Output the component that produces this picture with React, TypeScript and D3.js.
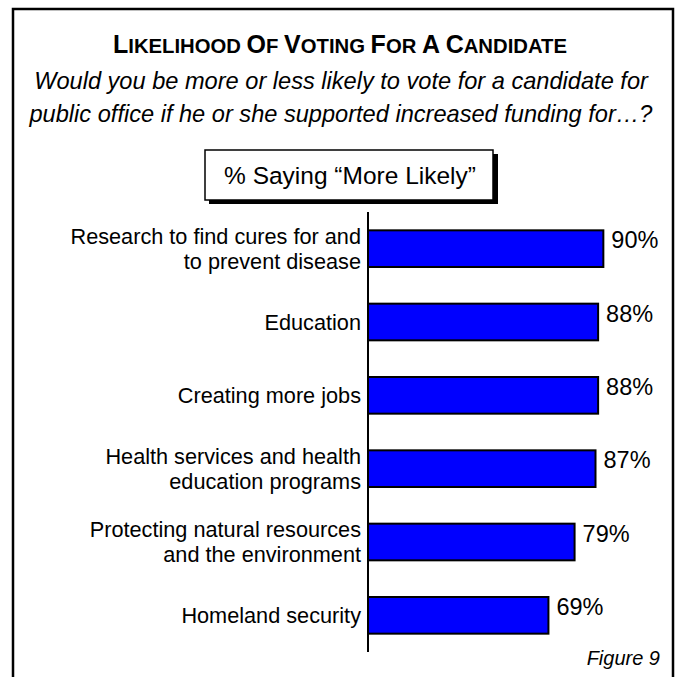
import React from "react";
import * as d3 from "d3";

const categories: string[][] = [
  ["Research to find cures for and", "to prevent disease"],
  ["Education"],
  ["Creating more jobs"],
  ["Health services and health", "education programs"],
  ["Protecting natural resources", "and the environment"],
  ["Homeland security"],
];
const values: number[] = [90, 88, 88, 87, 79, 69];
const titleWords: string[] = ["LIKELIHOOD", "OF", "VOTING", "FOR", "A", "CANDIDATE"];
const subtitleLines: string[] = [
  "Would you be more or less likely to vote for a candidate for",
  "public office if he or she supported increased funding for…?",
];
const legendText = "% Saying \u201CMore Likely\u201D";
const figureLabel = "Figure 9";

const W = 680;
const H = 677;
const FONT = "Arial, 'Liberation Sans', Helvetica, sans-serif";

export default function App() {
  const axisX = 368;
  const x = d3.scaleLinear().domain([0, 100]).range([axisX, axisX + 261.5]);
  const y = d3
    .scaleBand<number>()
    .domain(d3.range(values.length))
    .range([212, 652])
    .paddingInner(0.5)
    .paddingOuter(0.25);

  return (
    <svg
      width={W}
      height={H}
      style={{ position: "absolute", left: 0, top: 0, background: "#fff" }}
      fontFamily={FONT}
    >
      <rect x={0} y={0} width={W} height={H} fill="#fff" />
      <path d={`M13,${H + 5} V9 H673 V${H + 5}`} fill="none" stroke="#000" strokeWidth={2.5} />

      <text x={340} y={53} textAnchor="middle" fontWeight="bold" fill="#000">
        {titleWords.map((w, i) => (
          <React.Fragment key={i}>
            <tspan fontSize={25}>{w[0]}</tspan>
            <tspan fontSize={20.3}>{w.slice(1) + (i < titleWords.length - 1 ? " " : "")}</tspan>
          </React.Fragment>
        ))}
      </text>

      {subtitleLines.map((l, i) => (
        <text key={i} x={341} y={89 + i * 33} textAnchor="middle" fontStyle="italic" fontSize={23.6} fill="#000">
          {l}
        </text>
      ))}

      <rect x={209} y={154} width={289} height={50} fill="#000" />
      <rect x={205} y={150} width={288} height={50} fill="#fff" stroke="#000" strokeWidth={1.5} />
      <text x={350} y={184} textAnchor="middle" fontSize={24.5} fill="#000">
        {legendText}
      </text>

      <line x1={axisX} x2={axisX} y1={212} y2={652} stroke="#000" strokeWidth={2} />

      {values.map((v, i) => {
        const y0 = y(i)!;
        const bw = y.bandwidth();
        const cy = y0 + bw / 2;
        const lines = categories[i];
        const lh = 25;
        return (
          <g key={i}>
            <rect
              x={x(0)}
              y={y0}
              width={x(v) - x(0)}
              height={bw}
              fill="#0000FF"
              stroke="#000"
              strokeWidth={2}
            />
            <text x={x(v) + 8} y={y0 + 18} fontSize={23.5} fill="#000">
              {v}%
            </text>
            {lines.map((l, j) => (
              <text
                key={j}
                x={361}
                y={cy + 7.5 + (j - (lines.length - 1) / 2) * lh}
                textAnchor="end"
                fontSize={21.7}
                fill="#000"
              >
                {l}
              </text>
            ))}
          </g>
        );
      })}

      <text x={660} y={665} textAnchor="end" fontStyle="italic" fontSize={20} fill="#000">
        {figureLabel}
      </text>
    </svg>
  );
}
